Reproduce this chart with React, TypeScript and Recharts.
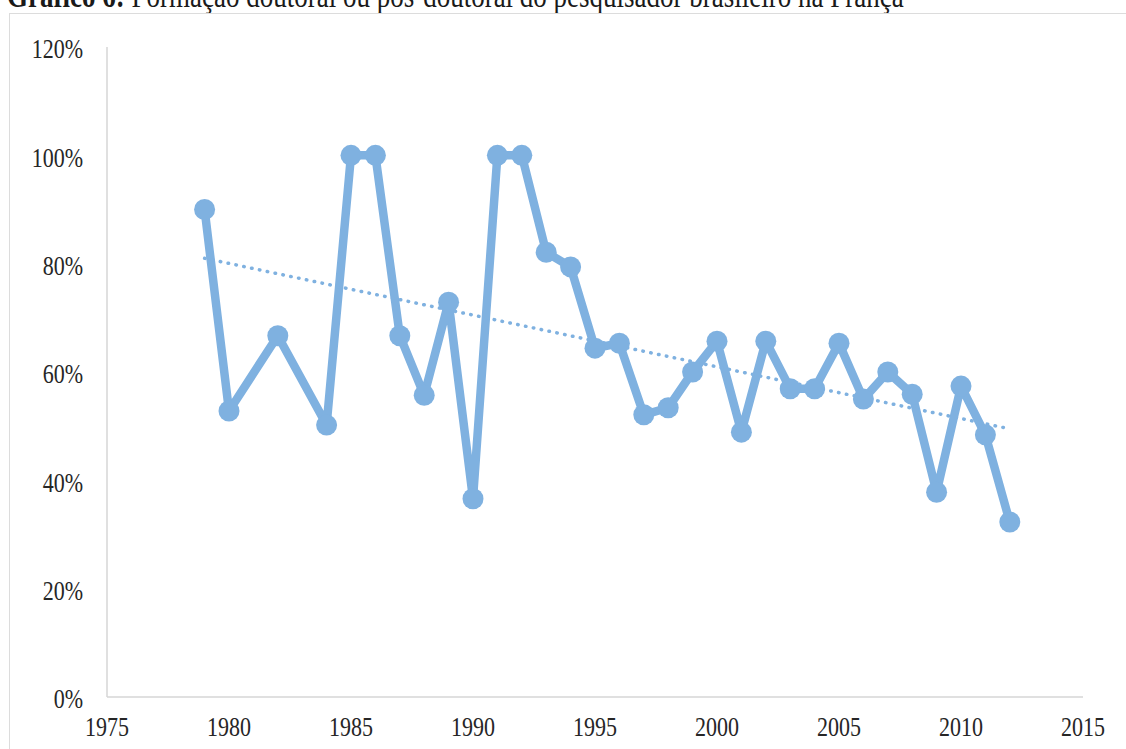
import React from 'react';
import { LineChart, Line, XAxis, YAxis } from 'recharts';

const years = [
  1979, 1980, 1982, 1984, 1985, 1986, 1987, 1988, 1989, 1990, 1991, 1992, 1993, 1994, 1995, 1996,
  1997, 1998, 1999, 2000, 2001, 2002, 2003, 2004, 2005, 2006, 2007, 2008, 2009, 2010, 2011, 2012
];
const shares = [
  90.0, 52.8, 66.7, 50.2, 100, 100, 66.7, 55.7, 72.9, 36.6, 100, 100, 82.1, 79.4, 64.4, 65.3,
  52.1, 53.4, 60.0, 65.7, 48.9, 65.7, 56.9, 56.9, 65.3, 55.0, 60.0, 55.9, 37.8, 57.4, 48.4, 32.3
];
// linear trend endpoints as drawn in the source
const trendYears = [1979, 2012];
const trendValues = [81.0, 49.5];

const xTicks = [1975, 1980, 1985, 1990, 1995, 2000, 2005, 2010, 2015];
const yTicks = [0, 20, 40, 60, 80, 100, 120];

const titleLead = 'Gráfico 6:';
const title = 'Formação doutoral ou pós-doutoral do pesquisador brasileiro na França';

const BLUE = '#7fb1e0';
const FONT = '"Liberation Serif", "Times New Roman", serif';
const TEXT = '#262626';
// the source picture is stretched a little vertically
const STRETCH = 1.22;

const data = years.map((year, i) => {
  const t = trendYears.indexOf(year);
  return { year, share: shares[i], trend: t >= 0 ? trendValues[t] : null };
});

const YTick = (props: any) => {
  const { x, y, payload } = props;
  return (
    <g transform={`translate(${x},${y}) scale(1,${STRETCH})`}>
      <text x={0} y={9.3} textAnchor="end" fontFamily={FONT} fontSize={22} fill={TEXT}>
        {`${payload.value}%`}
      </text>
    </g>
  );
};

const XTick = (props: any) => {
  const { x, y, payload } = props;
  return (
    <g transform={`translate(${x},${y}) scale(1,${STRETCH})`}>
      <text x={0} y={32} textAnchor="middle" fontFamily={FONT} fontSize={22} fill={TEXT}>
        {payload.value}
      </text>
    </g>
  );
};

export default function App() {
  return (
    <div
      style={{
        position: 'fixed',
        left: 0,
        top: 0,
        width: 1126,
        height: 749,
        overflow: 'hidden',
        background: '#fff'
      }}
    >
      <div
        style={{
          position: 'absolute',
          left: 7,
          top: -15,
          fontFamily: FONT,
          fontSize: 27,
          lineHeight: 1,
          whiteSpace: 'nowrap',
          color: '#1a1a1a',
          transform: `scaleY(${STRETCH})`,
          transformOrigin: '0 22.6px'
        }}
      >
        <b>{titleLead}</b> {title}
      </div>
      <div
        style={{
          position: 'absolute',
          left: 9,
          top: 13,
          width: 1200,
          height: 800,
          border: '1.5px solid #dcdcdc'
        }}
      />
      <div style={{ position: 'absolute', left: 0, top: 0 }}>
        <LineChart
          width={1126}
          height={749}
          data={data}
          margin={{ top: 47, right: 43, bottom: 0, left: 0 }}
        >
          <XAxis
            dataKey="year"
            type="number"
            domain={[1975, 2015]}
            ticks={xTicks}
            height={52}
            tickSize={0}
            tickMargin={0}
            axisLine={{ stroke: '#d6d6d6', strokeWidth: 1.5 }}
            tick={<XTick />}
            interval={0}
          />
          <YAxis
            domain={[0, 120]}
            ticks={yTicks}
            width={107}
            tickSize={0}
            tickMargin={24}
            axisLine={{ stroke: '#d6d6d6', strokeWidth: 1.5 }}
            tick={<YTick />}
            interval={0}
          />
          <Line
            dataKey="share"
            stroke={BLUE}
            strokeWidth={8.5}
            strokeLinejoin="round"
            dot={{ r: 10.5, fill: BLUE, stroke: 'none' }}
            activeDot={false}
            isAnimationActive={false}
          />
          <Line
            dataKey="trend"
            stroke={BLUE}
            strokeWidth={3.5}
            strokeDasharray="0.5 7.5"
            strokeLinecap="round"
            connectNulls
            dot={false}
            activeDot={false}
            isAnimationActive={false}
          />
        </LineChart>
      </div>
    </div>
  );
}
